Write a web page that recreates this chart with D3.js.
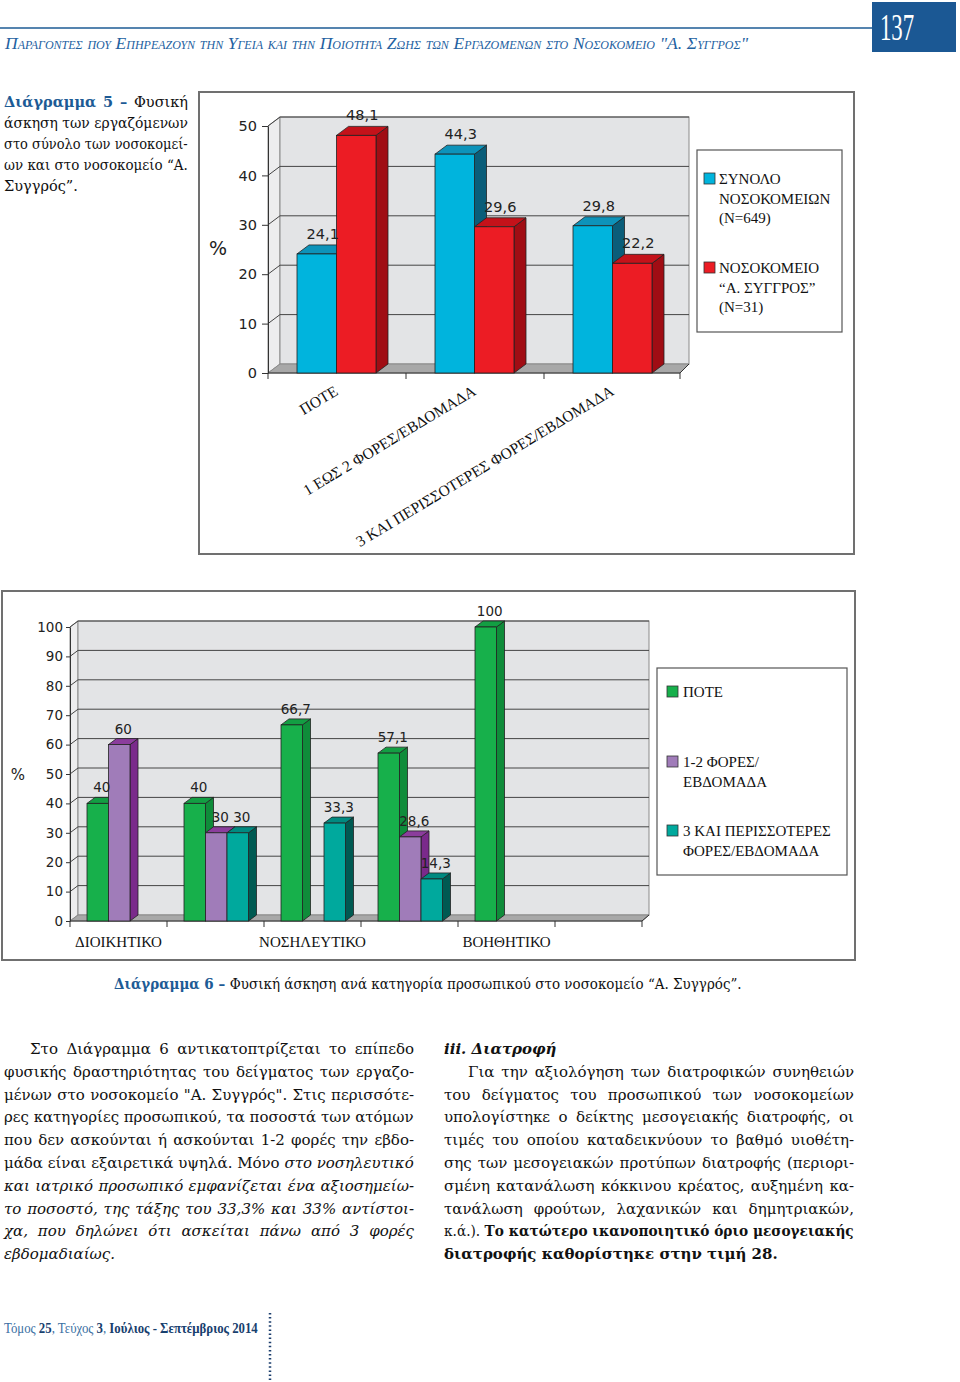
<!DOCTYPE html>
<html>
<head>
<meta charset="utf-8">
<script src="https://cdn.jsdelivr.net/npm/d3@7"></script>
<style>
  body { margin: 0; background: #fff; }
  svg { display: block; }
</style>
</head>
<body>
<div id="page"></div>
<script>
// Diagram 5 data
var freqLabels = ["ΠΟΤΕ", "1 ΕΩΣ 2 ΦΟΡΕΣ/ΕΒΔΟΜΑΔΑ", "3 ΚΑΙ ΠΕΡΙΣΣΟΤΕΡΕΣ ΦΟΡΕΣ/ΕΒΔΟΜΑΔΑ"];
var allHospitals = [24.1, 44.3, 29.8];
var syggros = [48.1, 29.6, 22.2];
var ticks5 = [0, 10, 20, 30, 40, 50];
var legend5 = [["ΣΥΝΟΛΟ", "ΝΟΣΟΚΟΜΕΙΩΝ", "(N=649)"], ["ΝΟΣΟΚΟΜΕΙΟ", "“Α. ΣΥΓΓΡΟΣ”", "(N=31)"]];

// Diagram 6 data (unlabelled categories are hidden in the original)
var staffLabels = ["ΔΙΟΙΚΗΤΙΚΟ", "", "ΝΟΣΗΛΕΥΤΙΚΟ", "", "ΒΟΗΘΗΤΙΚΟ", ""];
var never = [40, 40, 66.7, 57.1, 100, null];
var oneTwo = [60, 30, null, 28.6, null, null];
var threePlus = [null, 30, 33.3, 14.3, null, null];
var ticks6 = [0, 10, 20, 30, 40, 50, 60, 70, 80, 90, 100];
var legend6 = [["ΠΟΤΕ"], ["1-2 ΦΟΡΕΣ/", "ΕΒΔΟΜΑΔΑ"], ["3 ΚΑΙ ΠΕΡΙΣΣΟΤΕΡΕΣ", "ΦΟΡΕΣ/ΕΒΔΟΜΑΔΑ"]];

var numFont = "'DejaVu Sans', sans-serif";
var labFont = "'Liberation Serif', serif";
var bodyFont = "'DejaVu Serif', serif";
var blue = "#1d5b95";

var svg = d3.select("#page")
  .append("svg")
  .attr("width", 960)
  .attr("height", 1382);

// justify a text line to a width (word spacing, or squeeze if too long)
function fitLine(node, width) {
  var w = node.getComputedTextLength();
  var spaces = (node.textContent.trim().match(/ /g) || []).length;
  if (w > width) {
    var x = +node.getAttribute("x"), y = +node.getAttribute("y");
    d3.select(node).attr("transform",
      `translate(${x},${y}) scale(${width / w},1) translate(${-x},${-y})`);
  } else if (spaces > 0) {
    d3.select(node).attr("word-spacing", (width - w) / spaces);
  }
}

function writeLines(lines, opt) {
  lines.forEach(function(line, i) {
    var indent = i === 0 ? (opt.indent || 0) : 0;
    var t = svg.append("text")
      .attr("x", opt.x + indent)
      .attr("y", opt.y + i * opt.lh)
      .attr("font-family", opt.font)
      .attr("font-size", opt.size)
      .attr("fill", opt.color || "#111");
    line.forEach(function(seg) {
      var s = t.append("tspan").text(seg[0]);
      if (seg[1].indexOf("b") >= 0) s.attr("font-weight", "bold");
      if (seg[1].indexOf("i") >= 0) s.attr("font-style", "italic");
      if (seg[1].indexOf("c") >= 0) s.attr("fill", blue).attr("font-weight", "bold");
    });
    if (i < lines.length - 1 || opt.lastToo) fitLine(t.node(), opt.width - indent);
  });
}

// ------------------ page header ------------------
svg.append("line")
  .attr("x1", 0).attr("x2", 873).attr("y1", 28).attr("y2", 28)
  .attr("stroke", blue).attr("stroke-width", 1.5);
svg.append("rect")
  .attr("x", 872).attr("y", 2).attr("width", 84).attr("height", 50)
  .attr("fill", "#1b5894");
svg.append("text")
  .attr("transform", "translate(897,40) scale(0.6,1)")
  .attr("text-anchor", "middle")
  .attr("font-family", labFont).attr("font-size", 38)
  .attr("fill", "#fff")
  .text("137");
var title = svg.append("text")
  .attr("x", 5).attr("y", 49)
  .attr("font-family", labFont).attr("font-size", 17.5)
  .attr("font-style", "italic").attr("font-variant", "small-caps")
  .attr("fill", "#2361a1")
  .text("Παραγοντες που Επηρεαζουν την Υγεια και την Ποιοτητα Ζωης των Εργαζομενων στο Νοσοκομειο \"Α. Συγγρος\"");
fitLine(title.node(), 743);

// ------------------ caption 5 ------------------
writeLines([
  [["Διάγραμμα 5 – ", "c"], ["Φυσική", ""]],
  [["άσκηση των εργαζόμενων", ""]],
  [["στο σύνολο των νοσοκομεί-", ""]],
  [["ων και στο νοσοκομείο “Α.", ""]],
  [["Συγγρός”.", ""]]
], {x: 4, y: 107, lh: 21, width: 184, font: bodyFont, size: 14.5});

// ------------------ generic 3D bar chart ------------------
function drawChart(cfg) {
  var g = svg.append("g");
  var n = cfg.labels.length;
  var dx = cfg.dx, dy = cfg.dy;

  var y = d3.scaleLinear().domain(cfg.domain).range([cfg.y0, cfg.y1]);
  var x = d3.scaleBand().domain(d3.range(n)).range([cfg.x0, cfg.x1]);
  var xs = d3.scaleBand().domain(d3.range(cfg.series.length)).range(cfg.inner);
  var top = y(cfg.domain[1]);

  // frame
  g.append("rect")
    .attr("x", cfg.frame[0]).attr("y", cfg.frame[1])
    .attr("width", cfg.frame[2]).attr("height", cfg.frame[3])
    .attr("fill", "#fff").attr("stroke", "#707070").attr("stroke-width", 2);

  // side wall, back wall, floor
  g.append("path")
    .attr("d", `M${cfg.x0},${cfg.y0}L${cfg.x0},${top}L${cfg.x0 + dx},${top + dy}L${cfg.x0 + dx},${cfg.y0 + dy}Z`)
    .attr("fill", "#ededee").attr("stroke", "#8a8a8a");
  g.append("rect")
    .attr("x", cfg.x0 + dx).attr("y", top + dy)
    .attr("width", cfg.wallRight - cfg.x0 - dx).attr("height", cfg.y0 - top)
    .attr("fill", "#e3e4e6").attr("stroke", "#8a8a8a");
  g.selectAll(".grid")
    .data(cfg.ticks.slice(1))
    .enter()
    .append("path")
    .attr("d", d => `M${cfg.x0},${y(d)}L${cfg.x0 + dx},${y(d) + dy}L${cfg.wallRight},${y(d) + dy}`)
    .attr("fill", "none").attr("stroke", "#454545").attr("stroke-width", 1);
  g.append("path")
    .attr("d", `M${cfg.x0},${cfg.y0}L${cfg.floorRight},${cfg.y0}L${cfg.wallRight},${cfg.y0 + dy}L${cfg.x0 + dx},${cfg.y0 + dy}Z`)
    .attr("fill", "#a8a8a8").attr("stroke", "#8a8a8a");

  // left axis
  var leftAxis = d3.axisLeft(y)
    .tickValues(cfg.ticks)
    .tickSize(cfg.tickLen)
    .tickSizeOuter(0)
    .tickPadding(cfg.tickPad);
  var yAxis = g.append("g")
    .attr("transform", `translate(${cfg.x0},0)`)
    .call(leftAxis);
  yAxis.select(".domain").attr("stroke", "#333");
  yAxis.selectAll(".tick line").attr("stroke", "#333");
  yAxis.selectAll("text")
    .attr("font-family", numFont).attr("font-size", cfg.numSize).attr("fill", "#222");

  // bottom axis with ticks at category boundaries
  g.append("line")
    .attr("x1", cfg.x0).attr("x2", cfg.floorRight)
    .attr("y1", cfg.y0).attr("y2", cfg.y0)
    .attr("stroke", "#333");
  g.selectAll(".xtick")
    .data(d3.range(n + 1))
    .enter()
    .append("line")
    .attr("x1", d => d < n ? x(d) : cfg.floorRight)
    .attr("x2", d => d < n ? x(d) : cfg.floorRight)
    .attr("y1", cfg.y0).attr("y2", cfg.y0 + 6)
    .attr("stroke", "#333");
  g.append("line")
    .attr("x1", cfg.floorRight).attr("y1", cfg.y0)
    .attr("x2", cfg.wallRight).attr("y2", cfg.y0 + dy)
    .attr("stroke", "#333");

  // bars
  d3.range(n).forEach(function(i) {
    cfg.series.forEach(function(s, k) {
      var v = s.values[i];
      if (v == null) return;
      var bx = x(i) + xs(k), bw = xs.bandwidth();
      var yt = y(v), yb = cfg.y0;
      g.append("path")
        .attr("d", `M${bx + bw},${yt}L${bx + bw + dx},${yt + dy}L${bx + bw + dx},${yb + dy}L${bx + bw},${yb}Z`)
        .attr("fill", s.side).attr("stroke", "#222").attr("stroke-width", 0.8);
      g.append("path")
        .attr("d", `M${bx},${yt}L${bx + dx},${yt + dy}L${bx + bw + dx},${yt + dy}L${bx + bw},${yt}Z`)
        .attr("fill", s.top).attr("stroke", "#222").attr("stroke-width", 0.8);
      g.append("rect")
        .attr("x", bx).attr("y", yt)
        .attr("width", bw).attr("height", yb - yt)
        .attr("fill", s.front).attr("stroke", "#222").attr("stroke-width", 0.8);
    });
  });

  // value labels
  d3.range(n).forEach(function(i) {
    cfg.series.forEach(function(s, k) {
      var v = s.values[i];
      if (v == null) return;
      g.append("text")
        .attr("x", x(i) + xs(k) + xs.bandwidth() / 2 + dx / 2)
        .attr("y", y(v) + dy - cfg.labelGap)
        .attr("text-anchor", "middle")
        .attr("font-family", numFont).attr("font-size", cfg.numSize)
        .attr("fill", "#222")
        .text(String(v).replace(".", ","));
    });
  });

  // category labels
  var cats = g.selectAll(".cat")
    .data(cfg.labels)
    .enter()
    .append("text")
    .attr("font-family", labFont).attr("font-size", cfg.catSize)
    .attr("fill", "#111")
    .text(d => d);
  if (cfg.rotate) {
    cats.attr("text-anchor", "end")
      .attr("transform", (d, i) => `translate(${x(i) + x.bandwidth() / 2 + 2},${cfg.catY}) rotate(${cfg.rotate})`);
  } else {
    cats.attr("text-anchor", "middle")
      .attr("x", (d, i) => x(i) + x.bandwidth() / 2)
      .attr("y", cfg.catY);
  }

  // % label
  g.append("text")
    .attr("x", cfg.pct[0]).attr("y", cfg.pct[1])
    .attr("text-anchor", "middle")
    .attr("font-family", numFont).attr("font-size", cfg.pct[2])
    .attr("fill", "#222")
    .text("%");

  // legend
  var lg = cfg.legend;
  g.append("rect")
    .attr("x", lg.box[0]).attr("y", lg.box[1])
    .attr("width", lg.box[2]).attr("height", lg.box[3])
    .attr("fill", "#fff").attr("stroke", "#555").attr("stroke-width", 1.2);
  cfg.series.forEach(function(s, k) {
    var ly = lg.rows[k];
    g.append("rect")
      .attr("x", lg.sx).attr("y", ly - 11)
      .attr("width", 11).attr("height", 11)
      .attr("fill", s.front).attr("stroke", "#333").attr("stroke-width", 0.8);
    lg.names[k].forEach(function(line, j) {
      g.append("text")
        .attr("x", lg.tx).attr("y", ly + j * lg.lh)
        .attr("font-family", labFont).attr("font-size", lg.size)
        .attr("fill", "#111")
        .text(line);
    });
  });
}

// Diagram 5
drawChart({
  labels: freqLabels,
  series: [
    {values: allHospitals, front: "#00b4dd", top: "#0d93ba", side: "#0a5d79"},
    {values: syggros, front: "#ec1c24", top: "#c4121a", side: "#a00d14"}
  ],
  domain: [0, 50], ticks: ticks5,
  x0: 268, x1: 682, floorRight: 680, wallRight: 689,
  y0: 373, y1: 126, dx: 12, dy: -9,
  inner: [29, 108],
  frame: [199, 92, 655, 462],
  tickLen: 6, tickPad: 5, numSize: 14.5, labelGap: 6,
  catSize: 15.5, catY: 394, rotate: -31,
  pct: [218, 255, 19],
  legend: {box: [697, 150, 145, 182], sx: 704, tx: 719, rows: [184, 273], lh: 19.5, size: 15, names: legend5}
});

// Diagram 6
drawChart({
  labels: staffLabels,
  series: [
    {values: never, front: "#17b04b", top: "#139e43", side: "#0f8c3a"},
    {values: oneTwo, front: "#a07cb9", top: "#8b3d9c", side: "#7a2a8b"},
    {values: threePlus, front: "#00a99d", top: "#008a80", side: "#005a52"}
  ],
  domain: [0, 100], ticks: ticks6,
  x0: 70, x1: 652, floorRight: 642, wallRight: 649,
  y0: 921, y1: 627, dx: 8, dy: -6,
  inner: [17, 81.5],
  frame: [2, 591, 853, 369],
  tickLen: 4, tickPad: 3, numSize: 13.5, labelGap: 5,
  catSize: 15, catY: 947,
  pct: [18, 780, 15],
  legend: {box: [657, 668, 190, 207], sx: 667, tx: 683, rows: [697, 767, 836], lh: 20, size: 15, names: legend6}
});

// ------------------ caption 6 ------------------
var cap6 = svg.append("text")
  .attr("x", 114).attr("y", 989)
  .attr("font-family", bodyFont).attr("font-size", 14)
  .attr("fill", "#111");
cap6.append("tspan").attr("fill", blue).attr("font-weight", "bold").text("Διάγραμμα 6 – ");
cap6.append("tspan").text("Φυσική άσκηση ανά κατηγορία προσωπικού στο νοσοκομείο “Α. Συγγρός”.");
fitLine(cap6.node(), 628);

// ------------------ body text ------------------
writeLines([
  [["Στο Διάγραμμα 6 αντικατοπτρίζεται το επίπεδο", ""]],
  [["φυσικής δραστηριότητας του δείγματος των εργαζο-", ""]],
  [["μένων στο νοσοκομείο \"Α. Συγγρός\". Στις περισσότε-", ""]],
  [["ρες κατηγορίες προσωπικού, τα ποσοστά των ατόμων", ""]],
  [["που δεν ασκούνται ή ασκούνται 1-2 φορές την εβδο-", ""]],
  [["μάδα είναι εξαιρετικά υψηλά. Μόνο ", ""], ["στο νοσηλευτικό", "i"]],
  [["και ιατρικό προσωπικό εμφανίζεται ένα αξιοσημείω-", "i"]],
  [["το ποσοστό, της τάξης του 33,3% και 33% αντίστοι-", "i"]],
  [["χα, που δηλώνει ότι ασκείται πάνω από 3 φορές", "i"]],
  [["εβδομαδιαίως.", "i"]]
], {x: 4, y: 1054, lh: 22.8, width: 410, indent: 26, font: bodyFont, size: 15});

writeLines([
  [["iii. Διατροφή", "bi"]]
], {x: 444, y: 1054, lh: 22.8, width: 410, font: bodyFont, size: 15});

writeLines([
  [["Για την αξιολόγηση των διατροφικών συνηθειών", ""]],
  [["του δείγματος του προσωπικού των νοσοκομείων", ""]],
  [["υπολογίστηκε ο δείκτης μεσογειακής διατροφής, οι", ""]],
  [["τιμές του οποίου καταδεικνύουν το βαθμό υιοθέτη-", ""]],
  [["σης των μεσογειακών προτύπων διατροφής (περιορι-", ""]],
  [["σμένη κατανάλωση κόκκινου κρέατος, αυξημένη κα-", ""]],
  [["τανάλωση φρούτων, λαχανικών και δημητριακών,", ""]],
  [["κ.ά.). ", ""], ["Το κατώτερο ικανοποιητικό όριο μεσογειακής", "b"]],
  [["διατροφής καθορίστηκε στην τιμή 28.", "b"]]
], {x: 444, y: 1076.8, lh: 22.8, width: 410, indent: 24, font: bodyFont, size: 15});

// ------------------ footer ------------------
var foot = svg.append("text")
  .attr("x", 4).attr("y", 1333)
  .attr("font-family", labFont).attr("font-size", 14)
  .attr("fill", "#3b6fa3");
foot.append("tspan").text("Τόμος ");
foot.append("tspan").attr("font-weight", "bold").attr("fill", "#17406e").text("25");
foot.append("tspan").text(", Τεύχος ");
foot.append("tspan").attr("font-weight", "bold").attr("fill", "#17406e").text("3");
foot.append("tspan").text(", ");
foot.append("tspan").attr("font-weight", "bold").attr("fill", "#17406e").text("Ιούλιος - Σεπτέμβριος 2014");
fitLine(foot.node(), 254);

svg.append("line")
  .attr("x1", 270).attr("x2", 270).attr("y1", 1313).attr("y2", 1380)
  .attr("stroke", "#1d3f6e").attr("stroke-width", 2.5)
  .attr("stroke-dasharray", "1.5,2.6")
  .attr("stroke-linecap", "butt");
</script>
</body>
</html>
